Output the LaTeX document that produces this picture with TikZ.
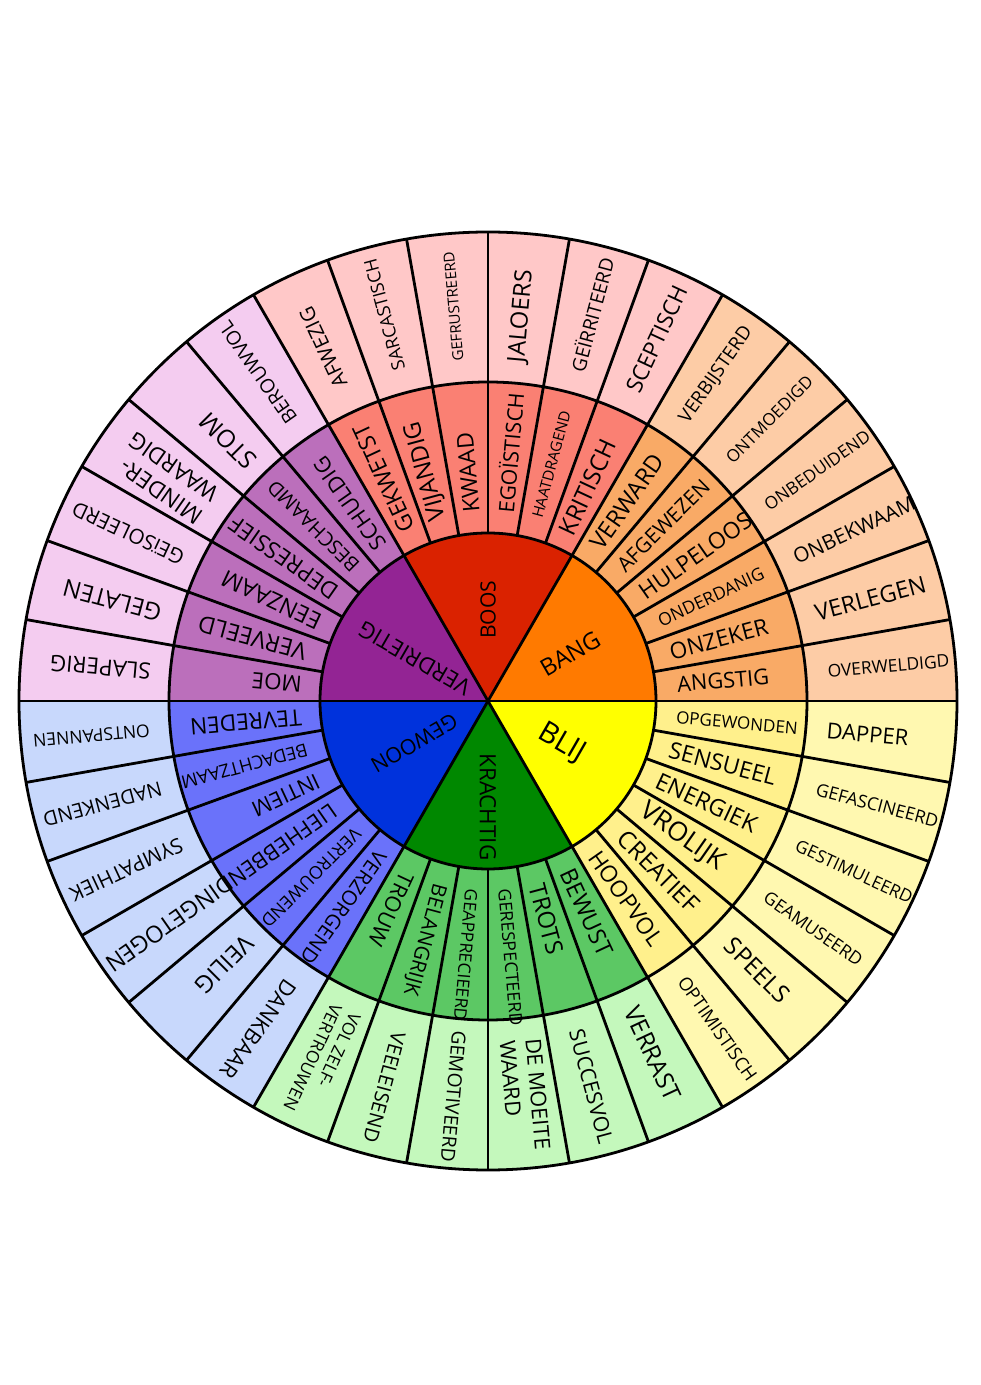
\documentclass[tikz,border=0pt]{standalone}
\usepackage{fontspec}
\setmainfont{Open Sans}
\usepackage{graphicx}

\definecolor{bangA}{RGB}{255,122,0}
\definecolor{bangB}{RGB}{249,170,102}
\definecolor{bangC}{RGB}{253,204,166}
\definecolor{boosA}{RGB}{218,34,0}
\definecolor{boosB}{RGB}{250,128,115}
\definecolor{boosC}{RGB}{255,200,200}
\definecolor{verdA}{RGB}{147,36,148}
\definecolor{verdB}{RGB}{187,111,187}
\definecolor{verdC}{RGB}{244,204,240}
\definecolor{gewA}{RGB}{0,50,220}
\definecolor{gewB}{RGB}{106,114,250}
\definecolor{gewC}{RGB}{200,216,252}
\definecolor{kraA}{RGB}{0,136,0}
\definecolor{kraB}{RGB}{92,200,100}
\definecolor{kraC}{RGB}{196,248,188}
\definecolor{blijA}{RGB}{255,255,0}
\definecolor{blijB}{RGB}{255,240,140}
\definecolor{blijC}{RGB}{255,248,176}

\newlength{\pxu}\setlength{\pxu}{0.6094pt}
\newcommand{\fit}[2]{\resizebox{#1\pxu}{!}{#2}}
\newcommand{\twolines}[2]{\begin{tabular}{@{}l@{}}#1\\#2\end{tabular}}

\tikzset{
  word/.style={inner sep=0pt, text=black},
  spoke/.style={line width=1.7pt},
}

\begin{document}
\begin{tikzpicture}[x=0.02143cm,y=0.02143cm]
\useasboundingbox (-488,-684) rectangle (492,701);

% the three rings, one sector of 60 degrees per feeling
\foreach \g/\ca/\cb/\cc [evaluate=\g as \h using \g+60] in
  {0/bangA/bangB/bangC, 60/boosA/boosB/boosC, 120/verdA/verdB/verdC,
   180/gewA/gewB/gewC, 240/kraA/kraB/kraC, 300/blijA/blijB/blijC}{
  \fill[\cc] (\g:319) arc[start angle=\g, end angle=\h, radius=319]
    -- (\h:469) arc[start angle=\h, end angle=\g, radius=469] -- cycle;
  \fill[\cb] (\g:168) arc[start angle=\g, end angle=\h, radius=168]
    -- (\h:319) arc[start angle=\h, end angle=\g, radius=319] -- cycle;
  \fill[\ca] (0,0) -- (\g:168) arc[start angle=\g, end angle=\h, radius=168] -- cycle;
}

\draw[spoke] (0,0) circle[radius=168];
\draw[spoke] (0,0) circle[radius=319];
\draw[spoke] (0,0) circle[radius=469];
\foreach \a in {0,10,...,350}
  \draw[spoke] (\a:168) -- (\a:469);
\foreach \a in {0,60,...,300}
  \draw[spoke] (0,0) -- (\a:168);

% inner circle
\foreach \a/\r/\w/\t in {30/95/65/BANG, 90/91/58/BOOS, 150/85/125/VERDRIETIG,
    210/85/96/GEWOON, 270/106/107/KRACHTIG, 330/85/50/BLIJ}
  \node[word, rotate=\a] (inner\a) at (\a:\r) {\fit{\w}{\t}};

% middle ring
\foreach \a/\r/\w/\t in {
    5/236/92/ANGSTIG, 15/239/101/ONZEKER, 25/246/115/ONDERDANIG,
    35/253/132/HULPELOOS, 45/248/121/AFGEWEZEN, 55/243/110/VERWARD,
    65/236/103/KRITISCH, 75/245/110/HAATDRAGEND, 85/249/120/EGOÏSTISCH,
    95/229/80/KWAAD, 105/238/102/VIJANDIG, 115/246/116/GEKWETST,
    125/241/108/SCHULDIG, 135/247/120/BESCHAAMD, 145/249/127/DEPRESSIEF,
    155/239/107/EENZAAM, 165/244/111/VERVEELD, 175/212/50/MOE,
    185/243/112/TEVREDEN, 195/252/130/BEDACHTZAAM, 205/223/72/INTIEM,
    215/259/143/LIEFHEBBEND, 225/250/132/VERTROUWEND, 235/252/133/VERZORGEND,
    245/230/78/TROUW, 255/247/115/BELANGRIJK, 265/255/132/GEAPPRECIEERD,
    275/257/137/GERESPECTEERD, 285/226/72/TROTS, 295/233/93/BEWUST,
    305/241/110/HOOPVOL, 315/241/104/CREATIEF, 325/237/97/VROLIJK,
    335/241/109/ENERGIEK, 345/243/110/SENSUEEL, 355/250/122/OPGEWONDEN}
  \node[word, rotate=\a] (mid\a) at (\a:\r) {\fit{\w}{\t}};

% outer ring
\foreach \a/\r/\w/\t in {
    5/402/122/OVERWELDIGD, 15/396/114/VERLEGEN, 25/404/132/ONBEKWAAM,
    35/402/125/ONBEDUIDEND, 45/398/115/ONTMOEDIGD, 55/398/113/VERBIJSTERD,
    65/399/115/SCEPTISCH, 75/400/117/GEÏRRITEERD, 85/386/93/JALOERS,
    95/396/110/GEFRUSTREERD, 105/400/114/SARCASTISCH, 115/390/86/AFWEZIG,
    125/401/120/BEROUWVOL, 135/368/68/STOM,
    145/392/103/{\twolines{MINDER-}{WAARDIG}},
    155/397/121/GEïSOLEERD, 165/389/101/GELATEN, 175/389/101/SLAPERIG,
    185/398/117/ONTSPANNEN, 195/399/122/NADENKEND, 205/399/122/SYMPATHIEK,
    215/397/133/INGETOGEN, 225/373/71/VEILIG, 235/401/115/DANKBAAR,
    245/397/115/{\twolines{VOL ZELF-}{VERTROUWEN}}, 255/400/113/VEELEISEND,
    265/397/132/GEMOTIVEERD, 275/396/112/{\twolines{DE MOEITE}{WAARD}},
    285/399/117/SUCCESVOL, 295/389/101/VERRAST,
    305/400/123/OPTIMISTISCH, 315/381/81/SPEELS, 325/397/116/GEAMUSEERD,
    335/404/127/GESTIMULEERD, 345/403/126/GEFASCINEERD, 355/381/82/DAPPER}
  \node[word, rotate=\a] (out\a) at (\a:\r) {\fit{\w}{\t}};

\end{tikzpicture}
\end{document}
